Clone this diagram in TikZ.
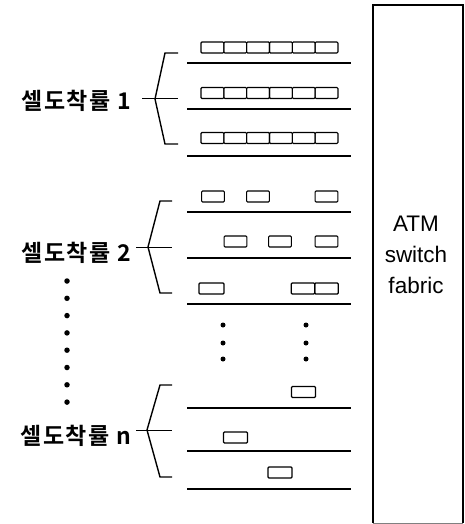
\documentclass[tikz,border=0pt]{standalone}
\usepackage{fontspec}
\setmainfont{Liberation Sans}
\newfontfamily\kofont{Noto Sans CJK KR}[BoldFont={Noto Sans CJK KR Bold},LetterSpace=6]
\begin{document}
\begin{tikzpicture}[x=1pt,y=-1pt,
  cell/.style={draw,line width=1.1pt,rounded corners=1pt,minimum width=22.8pt,minimum height=11pt,inner sep=0pt},
  qline/.style={line width=1.4pt},
  brace/.style={line width=1.4pt},
  lbl/.style={font=\kofont\bfseries\fontsize{23}{26}\selectfont,anchor=east,inner sep=0pt},
  atm/.style={font=\fontsize{22.5}{31}\selectfont,align=center},
  dot/.style={circle,fill,inner sep=0pt,minimum size=5pt}]
\useasboundingbox (0,0) rectangle (465,524);
% switch fabric
\draw[line width=1.4pt] (373,523) -- (373,5) -- (463,5) -- (463,523);
\draw[line width=0.4pt,gray] (373,523) -- (463,523);
\node[atm] (atm) at (416,255) {ATM\\switch\\fabric};
% queue lines
\foreach \n/\y in {l1/63,l2/109,l3/156,l4/212,l5/258,l6/304,l7/408,l8/451,l9/489}{
  \coordinate (\n a) at (187,\y); \coordinate (\n b) at (351,\y);
  \draw[qline] (\n a) -- (\n b);}
% group 1 cells
\foreach \r/\y in {1/47.5,2/93,3/138}{
  \foreach \i in {0,...,5}{
    \node[cell] (g1r\r c\i) at ({201+22.83*(\i+0.5)},\y) {};}}
% group 2 cells
\node[cell] (g2a1) at (213,196.5) {};
\node[cell] (g2a2) at (258,196.5) {};
\node[cell] (g2a3) at (326.5,196.5) {};
\node[cell] (g2b1) at (235.5,241.5) {};
\node[cell] (g2b2) at (280,241.5) {};
\node[cell] (g2b3) at (326.5,241.5) {};
\node[cell,minimum width=25pt] (g2c1) at (211.5,288.5) {};
\node[cell,minimum width=23.5pt] (g2c2) at (303,288.5) {};
\node[cell,minimum width=23.5pt] (g2c3) at (326.5,288.5) {};
% vertical dots between groups
\foreach \j/\y in {1/325,2/343,3/359}{
  \node[dot] (da\j) at (223,\y) {};
  \node[dot] (db\j) at (306,\y) {};}
% group n cells
\node[cell,minimum width=24pt] (gna) at (303.5,392) {};
\node[cell,minimum width=24pt] (gnb) at (235.5,437.5) {};
\node[cell,minimum width=24pt] (gnc) at (280,472.5) {};
% labels and braces
\node[lbl] (lab1) at (131,101) {셀도착률 1};
\node[lbl] (lab2) at (131,253) {셀도착률 2};
\node[lbl] (labn) at (131,436) {셀도착률 n};
\coordinate (t1) at (155,99); \coordinate (t2) at (148,247); \coordinate (tn) at (147,430);
\coordinate (e1) at (178,99); \coordinate (e2) at (172,247); \coordinate (en) at (172,430);
\draw[brace] (178,53) -- (165,53) -- (t1) -- (165,144) -- (178,144);
\draw[brace] (172,201) -- (160,201) -- (t2) -- (160,293) -- (172,293);
\draw[brace] (172,385) -- (160,385) -- (tn) -- (160,477) -- (172,477);
\draw[line width=1pt] (142,99) -- (e1);
\draw[line width=1pt] (136,247) -- (e2);
\draw[line width=1pt] (136,430) -- (en);
% dots below label 2
\foreach \k in {0,...,7}{
  \node[dot,minimum size=5.5pt] (vd\k) at (67,{281+17.3*\k}) {};}
\end{tikzpicture}
\end{document}
